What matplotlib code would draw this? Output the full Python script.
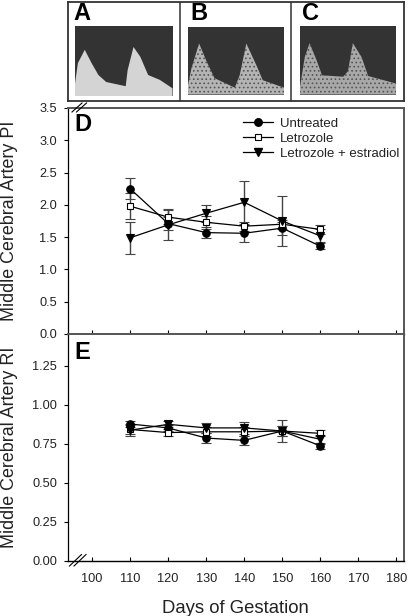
import matplotlib
matplotlib.use('Agg')
import matplotlib.pyplot as plt
from matplotlib.lines import Line2D
from matplotlib.patches import Rectangle

plt.rcParams['font.family'] = ['Liberation Sans', 'DejaVu Sans']
plt.rcParams['hatch.linewidth'] = 0.7

W, H = 408, 616

days = [110, 120, 130, 140, 150, 160]
x_ticks = [100, 110, 120, 130, 140, 150, 160, 170, 180]

# panel D, pulsatility index
pi_untreated = [2.25, 1.71, 1.57, 1.56, 1.64, 1.36]
pi_untreated_err = [0.16, 0.10, 0.08, 0.13, 0.10, 0.05]
pi_letrozole = [1.98, 1.81, 1.73, 1.67, 1.70, 1.62]
pi_letrozole_err = [0.20, 0.11, 0.10, 0.07, 0.07, 0.07]
pi_estradiol = [1.49, 1.69, 1.87, 2.04, 1.75, 1.52]
pi_estradiol_err = [0.25, 0.24, 0.13, 0.33, 0.39, 0.10]

# panel E, resistance index
ri_untreated = [0.875, 0.85, 0.785, 0.77, 0.83, 0.735]
ri_untreated_err = [0.02, 0.02, 0.03, 0.03, 0.03, 0.02]
ri_letrozole = [0.84, 0.82, 0.825, 0.825, 0.83, 0.815]
ri_letrozole_err = [0.03, 0.02, 0.03, 0.03, 0.07, 0.02]
ri_estradiol = [0.835, 0.873, 0.85, 0.85, 0.83, 0.777]
ri_estradiol_err = [0.04, 0.02, 0.03, 0.04, 0.03, 0.03]

pi_ticks = [0.0, 0.5, 1.0, 1.5, 2.0, 2.5, 3.0, 3.5]
ri_ticks = [0.00, 0.25, 0.50, 0.75, 1.00, 1.25]

# doppler waveform outlines, percent of image width / height
wave_a_x = [0, 3, 10, 17, 24, 32, 52, 54, 60, 67, 75, 87, 100]
wave_a_y = [18, 47, 66, 47, 30, 20, 14, 37, 70, 56, 30, 23, 11]
wave_b_x = [0, 4, 12, 20, 28, 40, 49, 54, 61, 72, 78, 100]
wave_b_y = [10, 38, 75, 48, 24, 16, 10, 28, 75, 41, 21, 10]
wave_c_x = [0, 5, 10, 17, 23, 45, 50, 55, 64, 71, 100]
wave_c_y = [11, 55, 75, 51, 28, 26, 34, 75, 55, 27, 16]


def px_axes(left, top, right, bottom):
    return fig.add_axes([left / W, 1 - bottom / H, (right - left) / W, (bottom - top) / H])


def draw_wave(box, xs, ys, color, hatch):
    ax = px_axes(*box)
    ax.set_xlim(0, 100)
    ax.set_ylim(0, 100)
    ax.axis('off')
    ax.add_patch(Rectangle((0, 0), 100, 100, facecolor='#333333', edgecolor='none'))
    ax.fill_between(xs, ys, 0, facecolor=color, edgecolor='#555555' if hatch else 'none',
                    hatch=hatch, linewidth=0)


def draw_series(ax, y, err, marker, face, size):
    ax.errorbar(days, y, yerr=err, color='black', ecolor='#444444', elinewidth=1.0, capsize=3.6,
                capthick=0.9, linewidth=0.9, marker=marker, markersize=size,
                markerfacecolor=face, markeredgecolor='black', markeredgewidth=0.8)


def style_axes(ax, ticks, fmt):
    ax.set_xlim(93.55, 182)
    ax.set_xticks(x_ticks)
    ax.set_yticks(ticks)
    ax.set_yticklabels([fmt % t for t in ticks], fontsize=9.2, color='#222222')
    ax.tick_params(axis='x', direction='in', length=2.8, width=0.8)
    ax.tick_params(axis='y', direction='out', length=3, width=0.8, pad=4.5)
    ax.spines['left'].set_linewidth(0.9)
    ax.spines['bottom'].set_linewidth(1.0)
    for side in ['top', 'right']:
        ax.spines[side].set_linewidth(1.4)
        ax.spines[side].set_color('#555555')


def break_mark(x0, y0, x1, y1):
    for shift in [0, 4.5]:
        fig.add_artist(Line2D([(x0 + shift) / W, (x1 + shift) / W], [1 - y0 / H, 1 - y1 / H],
                              color='black', linewidth=0.8))


fig = plt.figure(figsize=(W / 100, H / 100), dpi=100)

# top strip with the three doppler images
strip = px_axes(67.5, 1.5, 404, 100.5)
strip.set_xticks([])
strip.set_yticks([])
strip.set_xlim(67.5, 404)
strip.set_ylim(100.5, 1.5)
for side in strip.spines.values():
    side.set_linewidth(1.3)
    side.set_color('#333333')
strip.axvline(179.5, color='#333333', linewidth=1.1)
strip.axvline(291.5, color='#333333', linewidth=1.1)
strip.text(82, 14, 'A', fontsize=17, fontweight='bold', ha='center', va='center')
strip.text(199, 14, 'B', fontsize=17, fontweight='bold', ha='center', va='center')
strip.text(311, 14, 'C', fontsize=17, fontweight='bold', ha='center', va='center')

draw_wave((75, 26, 172.5, 96), wave_a_x, wave_a_y, '#d4d4d4', None)
draw_wave((187.5, 26.5, 284, 94.5), wave_b_x, wave_b_y, '#b4b4b4', '....')
draw_wave((300, 26, 396, 94.5), wave_c_x, wave_c_y, '#a8a8a8', '....')

# panel D
ax_d = px_axes(67.5, 108, 404, 334)
ax_d.set_ylim(0, 3.5)
draw_series(ax_d, pi_untreated, pi_untreated_err, 'o', 'black', 5.4)
draw_series(ax_d, pi_letrozole, pi_letrozole_err, 's', 'white', 4)
draw_series(ax_d, pi_estradiol, pi_estradiol_err, 'v', 'black', 5.6)
style_axes(ax_d, pi_ticks, '%.1f')
ax_d.tick_params(axis='x', labelbottom=False)
ax_d.set_ylabel('Middle Cerebral Artery PI', fontsize=12.9, color='#222222')
ax_d.yaxis.set_label_coords(-50 / 336.5, 0.501)
ax_d.text(0.019, 0.925, 'D', transform=ax_d.transAxes, fontsize=17, fontweight='bold', va='center')

handles = [
    Line2D([], [], color='black', linewidth=0.9, marker='o', markersize=5.4, markerfacecolor='black'),
    Line2D([], [], color='black', linewidth=0.9, marker='s', markersize=4, markerfacecolor='white',
           markeredgewidth=0.8),
    Line2D([], [], color='black', linewidth=0.9, marker='v', markersize=5.6, markerfacecolor='black'),
]
ax_d.legend(handles, ['Untreated', 'Letrozole', 'Letrozole + estradiol'], loc='upper left',
            bbox_to_anchor=(0.495, 0.998), frameon=False, fontsize=9.5, labelspacing=0.21,
            handlelength=2.27, handletextpad=0.5, borderpad=0.2, labelcolor='#222222')

# panel E
ax_e = px_axes(67.5, 334, 404, 560.5)
ax_e.set_ylim(0, 226.5 / 156)
draw_series(ax_e, ri_untreated, ri_untreated_err, 'o', 'black', 5.4)
draw_series(ax_e, ri_letrozole, ri_letrozole_err, 's', 'white', 4)
draw_series(ax_e, ri_estradiol, ri_estradiol_err, 'v', 'black', 5.6)
style_axes(ax_e, ri_ticks, '%.2f')
ax_e.set_xticklabels([str(t) for t in x_ticks], fontsize=9.2, color='#222222')
ax_e.tick_params(axis='x', pad=9)
ax_e.set_xlabel('Days of Gestation', fontsize=13.3, labelpad=10.5, color='#222222')
ax_e.set_ylabel('Middle Cerebral Artery RI', fontsize=12.9, color='#222222')
ax_e.yaxis.set_label_coords(-50 / 336.5, 0.501)
ax_e.text(0.019, 0.92, 'E', transform=ax_e.transAxes, fontsize=17, fontweight='bold', va='center')

break_mark(72, 112, 82, 103)
break_mark(69.5, 566, 81.5, 554.5)

fig.savefig('out.png', dpi=100)
